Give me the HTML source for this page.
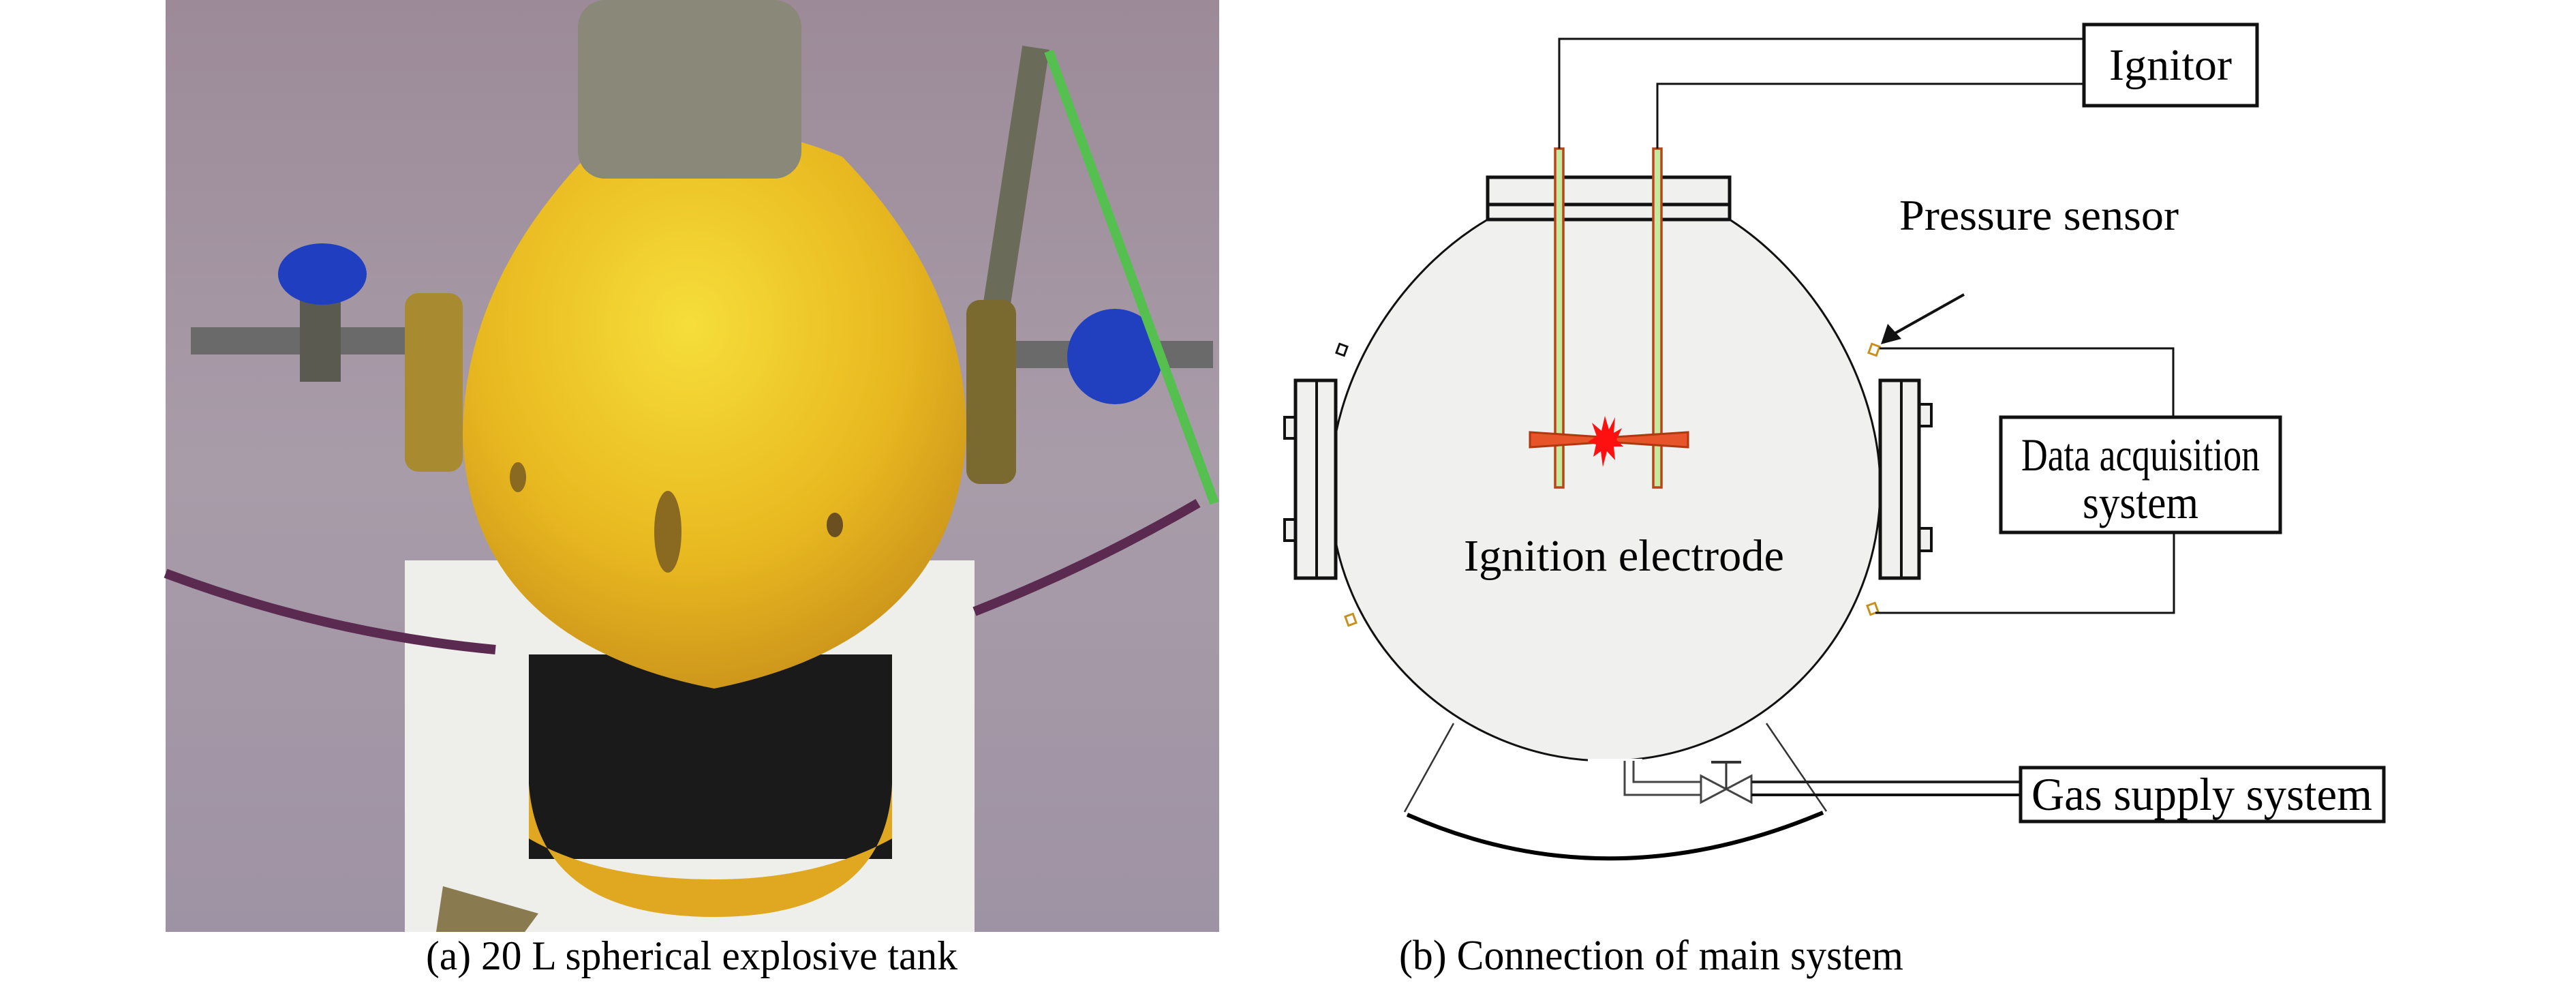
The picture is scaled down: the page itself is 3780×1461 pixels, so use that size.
<!DOCTYPE html>
<html><head><meta charset="utf-8"><style>
html,body{margin:0;padding:0;background:#fff;width:3780px;height:1461px;overflow:hidden}
svg{display:block}
text{font-family:"Liberation Serif",serif;fill:#000}
</style></head><body>
<svg width="3780" height="1461" viewBox="0 0 3780 1461" xmlns="http://www.w3.org/2000/svg">
<defs>
<radialGradient id="yel" cx="0.45" cy="0.35" r="0.7">
<stop offset="0" stop-color="#f6de3a"/><stop offset="0.6" stop-color="#e8b820"/><stop offset="1" stop-color="#c8901a"/>
</radialGradient>
<linearGradient id="bg" x1="0" y1="0" x2="0" y2="1">
<stop offset="0" stop-color="#9c8a98"/><stop offset="0.5" stop-color="#a99ca9"/><stop offset="1" stop-color="#9e93a4"/>
</linearGradient>
</defs>
<rect x="243" y="0" width="1546" height="1367" fill="url(#bg)"/>
<rect x="594" y="822" width="836" height="545" fill="#eeeeea"/>
<path d="M243 841 Q480 930 727 953" stroke="#5a2a50" stroke-width="14" fill="none"/>
<path d="M1430 897 Q1600 830 1758 738" stroke="#5a2a50" stroke-width="14" fill="none"/>
<rect x="280" y="480" width="320" height="40" fill="#6a6a6a"/>
<rect x="1480" y="500" width="300" height="40" fill="#6a6a6a"/>
<rect x="440" y="440" width="60" height="120" fill="#5a5a50"/>
<ellipse cx="473" cy="402" rx="65" ry="45" fill="#1f3fc0"/>
<ellipse cx="1636" cy="523" rx="70" ry="70" fill="#2040c0"/>
<path d="M1520 70 L1450 530" stroke="#6b6b5a" stroke-width="40"/>
<path d="M1539 75 L1782 738" stroke="#55c050" stroke-width="14"/>
<rect x="776" y="960" width="533" height="300" fill="#1a1a1a"/>
<path d="M776 1150 Q790 1345 1048 1345 Q1300 1345 1309 1150 L1309 1230 Q1200 1290 1048 1290 Q880 1290 776 1230Z" fill="#e0a820"/>
<path d="M860 230 Q1048 150 1236 230 Q1420 420 1418 640 Q1400 940 1048 1010 Q690 940 679 640 Q680 420 860 230Z" fill="url(#yel)"/>
<rect x="848" y="0" width="328" height="262" rx="40" fill="#8a8878"/>
<rect x="594" y="430" width="85" height="262" rx="20" fill="#a88a30"/>
<rect x="1418" y="440" width="73" height="270" rx="20" fill="#7a6a30"/>
<ellipse cx="980" cy="780" rx="20" ry="60" fill="#8a6a20"/>
<ellipse cx="760" cy="700" rx="12" ry="22" fill="#8a6a20"/>
<ellipse cx="1225" cy="770" rx="12" ry="18" fill="#6a5020"/>
<path d="M650 1300 L790 1340 L770 1367 L640 1367Z" fill="#8a7a50"/>
<text x="1015" y="1422" font-size="60" text-anchor="middle" textLength="780" lengthAdjust="spacingAndGlyphs">(a) 20 L spherical explosive tank</text>

<line x1="2133" y1="1061" x2="2061" y2="1191" stroke="#333" stroke-width="2.5"/>
<line x1="2592" y1="1061" x2="2680" y2="1190" stroke="#333" stroke-width="2.5"/>
<path d="M2065 1195 Q2360 1325 2675 1192" stroke="#000" stroke-width="6" fill="none"/>
<path d="M2183,322 C2050,400 1952,560 1952,715 C1952,940 2140,1116 2358,1116 C2576,1116 2759,940 2759,715 C2759,560 2660,400 2538,322 Z" fill="#f0f0ee" stroke="#111" stroke-width="3"/>
<rect x="2330" y="1113" width="80" height="10" fill="#fff"/>
<rect x="1885" y="612" width="17" height="31" fill="#f0f0ee" stroke="#111" stroke-width="4"/>
<rect x="1885" y="762" width="17" height="31" fill="#f0f0ee" stroke="#111" stroke-width="4"/>
<rect x="1901" y="558" width="59" height="290" fill="#f0f0ee" stroke="#111" stroke-width="5"/>
<line x1="1932" y1="558" x2="1932" y2="848" stroke="#111" stroke-width="4"/>
<rect x="2816" y="593" width="18" height="32" fill="#f0f0ee" stroke="#111" stroke-width="4"/>
<rect x="2816" y="775" width="18" height="33" fill="#f0f0ee" stroke="#111" stroke-width="4"/>
<rect x="2759" y="558" width="57" height="290" fill="#f0f0ee" stroke="#111" stroke-width="5"/>
<line x1="2790" y1="558" x2="2790" y2="848" stroke="#111" stroke-width="4"/>
<rect x="1963" y="506" width="12" height="14" fill="none" stroke="#111" stroke-width="3" transform="rotate(20 1969 513)"/>
<rect x="1976" y="902" width="12" height="14" fill="none" stroke="#c8901a" stroke-width="3" transform="rotate(-20 1982 909)"/>
<rect x="2744" y="506" width="12" height="14" fill="none" stroke="#c8901a" stroke-width="3" transform="rotate(20 2750 513)"/>
<rect x="2742" y="886" width="12" height="14" fill="none" stroke="#c8901a" stroke-width="3" transform="rotate(-20 2748 893)"/>
<rect x="2183" y="260" width="355" height="62" fill="#f0f0ee" stroke="#111" stroke-width="5"/>
<line x1="2183" y1="300" x2="2538" y2="300" stroke="#111" stroke-width="5"/>
<rect x="2282" y="218" width="12" height="497" fill="#c8e8a0" stroke="#b8451a" stroke-width="3.5"/>
<rect x="2426" y="218" width="12" height="497" fill="#c8e8a0" stroke="#b8451a" stroke-width="3.5"/>
<path d="M2245 634 L2350 641 L2350 649 L2245 656Z M2477 634 L2370 641 L2370 649 L2477 656Z" fill="#e8542a" stroke="#b0380f" stroke-width="3"/>
<polygon points="2355,610 2361,630 2370,612 2368,635 2380,628 2372,645 2382,655 2368,655 2370,675 2358,662 2352,685 2349,662 2338,670 2342,652 2330,648 2343,640 2336,620 2350,632" fill="#ff1010"/>
<polyline points="2288,218 2288,57 3058,57" fill="none" stroke="#111" stroke-width="3"/>
<polyline points="2432,218 2432,123 3058,123" fill="none" stroke="#111" stroke-width="3"/>
<rect x="3058" y="36" width="254" height="119" fill="#fff" stroke="#111" stroke-width="5"/>
<text x="3185" y="117" font-size="66" text-anchor="middle" textLength="180" lengthAdjust="spacingAndGlyphs">Ignitor</text>
<text x="2787" y="337" font-size="64" textLength="410" lengthAdjust="spacingAndGlyphs">Pressure sensor</text>
<line x1="2882" y1="432" x2="2775" y2="492" stroke="#111" stroke-width="4"/>
<polygon points="2760,505 2770,475 2790,497" fill="#111"/>
<polyline points="2758,511 3189,511 3189,612" fill="none" stroke="#111" stroke-width="3"/>
<polyline points="3190,781 3190,899 2752,899" fill="none" stroke="#111" stroke-width="3"/>
<rect x="2936" y="612" width="410" height="169" fill="#fff" stroke="#111" stroke-width="5"/>
<text x="3141" y="690" font-size="68" text-anchor="middle" textLength="350" lengthAdjust="spacingAndGlyphs">Data acquisition</text>
<text x="3141" y="760" font-size="68" text-anchor="middle" textLength="170" lengthAdjust="spacingAndGlyphs">system</text>
<text x="2383" y="837" font-size="66" text-anchor="middle" textLength="470" lengthAdjust="spacingAndGlyphs">Ignition electrode</text>
<polyline points="2384,1116 2384,1166 2496,1166" fill="none" stroke="#444" stroke-width="3"/>
<polyline points="2397,1116 2397,1147 2496,1147" fill="none" stroke="#444" stroke-width="3"/>
<polygon points="2496,1138 2496,1177 2570,1138 2570,1177" fill="#fff" stroke="#444" stroke-width="3"/>
<line x1="2533" y1="1118" x2="2533" y2="1157" stroke="#333" stroke-width="3"/>
<line x1="2511" y1="1118" x2="2555" y2="1118" stroke="#333" stroke-width="4"/>
<line x1="2570" y1="1147" x2="2965" y2="1147" stroke="#222" stroke-width="4"/>
<line x1="2570" y1="1166" x2="2965" y2="1166" stroke="#111" stroke-width="4"/>
<rect x="2965" y="1126" width="533" height="79" fill="#fff" stroke="#111" stroke-width="5"/>
<text x="3231" y="1188" font-size="68" text-anchor="middle" textLength="500" lengthAdjust="spacingAndGlyphs">Gas supply system</text>
<text x="2423" y="1422" font-size="62" text-anchor="middle" textLength="740" lengthAdjust="spacingAndGlyphs">(b) Connection of main system</text>
</svg>
</body></html>
